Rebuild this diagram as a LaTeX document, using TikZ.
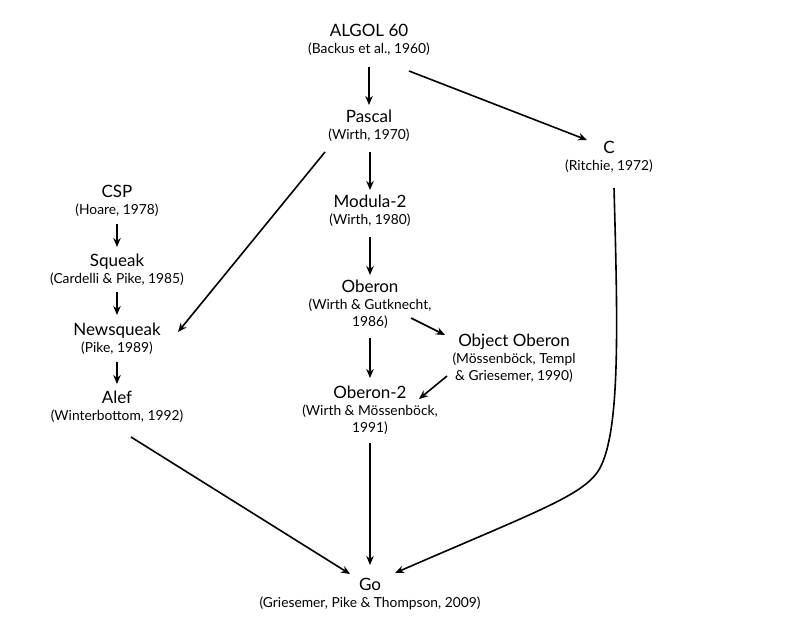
\documentclass[tikz,border=0pt]{standalone}
\usepackage{fontspec}
\setmainfont{Lato}
\usetikzlibrary{arrows.meta,calc}
\tikzset{
  lang/.style={align=center,inner sep=1pt,font=\fontsize{13.8}{17}\selectfont},
  conn/.style={line width=1.6pt,-{Stealth[length=9pt,width=7.5pt]}}
}
\newcommand{\ttl}[1]{{\fontsize{17}{18}\selectfont #1}}
\begin{document}
\begin{tikzpicture}[x=1pt,y=-1pt]
\useasboundingbox[fill=white] (0,0) rectangle (792,624);
\node[lang] (algol) at (369,40) {\ttl{ALGOL 60}\\(Backus et al., 1960)};
\node[lang] (pascal) at (369,126) {\ttl{Pascal}\\(Wirth, 1970)};
\node[lang] (c) at (609,157) {\ttl{C}\\(Ritchie, 1972)};
\node[lang] (modula) at (370,211) {\ttl{Modula-2}\\(Wirth, 1980)};
\node[lang] (csp) at (117,201) {\ttl{CSP}\\(Hoare, 1978)};
\node[lang] (squeak) at (117,270) {\ttl{Squeak}\\(Cardelli \& Pike, 1985)};
\node[lang] (newsq) at (117,339) {\ttl{Newsqueak}\\(Pike, 1989)};
\node[lang] (alef) at (117,407) {\ttl{Alef}\\(Winterbottom, 1992)};
\node[lang] (oberon) at (370,304) {\ttl{Oberon}\\(Wirth \& Gutknecht,\\1986)};
\node[lang] (obj) at (514,358) {\ttl{Object Oberon}\\(Mössenböck, Templ\\\& Griesemer, 1990)};
\node[lang] (ob2) at (370,410) {\ttl{Oberon-2}\\(Wirth \& Mössenböck,\\1991)};
\node[lang] (go) at (370,594) {\ttl{Go}\\(Griesemer, Pike \& Thompson, 2009)};
\draw[conn] ($(algol)+(0,27)$) -- ($(pascal)+(0,-21)$);
\draw[conn] ($(algol)+(40,31)$) -- ($(c)+(-22,-17)$);
\draw[conn] ($(pascal)+(1,26)$) -- ($(modula)+(0,-21)$);
\draw[conn] ($(pascal)+(-44,26)$) -- ($(newsq)+(61,-7)$);
\draw[conn] ($(modula)+(0,26)$) -- ($(oberon)+(0,-29)$);
\draw[conn] ($(csp)+(0,23)$) -- ($(squeak)+(0,-23)$);
\draw[conn] ($(squeak)+(0,22)$) -- ($(newsq)+(0,-24)$);
\draw[conn] ($(newsq)+(0,23)$) -- ($(alef)+(0,-23)$);
\draw[conn] ($(oberon)+(41,14)$) -- ($(obj)+(-69,-23)$);
\draw[conn] ($(oberon)+(0,34)$) -- ($(ob2)+(0,-32)$);
\draw[conn] ($(obj)+(-67,18)$) -- ($(ob2)+(49,-11)$);
\draw[conn] ($(ob2)+(0,33)$) -- ($(go)+(0,-29)$);
\draw[conn] ($(alef)+(14,30)$) -- ($(go)+(-20,-20)$);
\coordinate (bend) at (600,468);
\draw[conn] ($(c)+(5,31)$) .. controls (618,330) and (620,430) .. (bend)
  .. controls (585,495) and (540,510) .. ($(go)+(25,-21)$);
\end{tikzpicture}
\end{document}
